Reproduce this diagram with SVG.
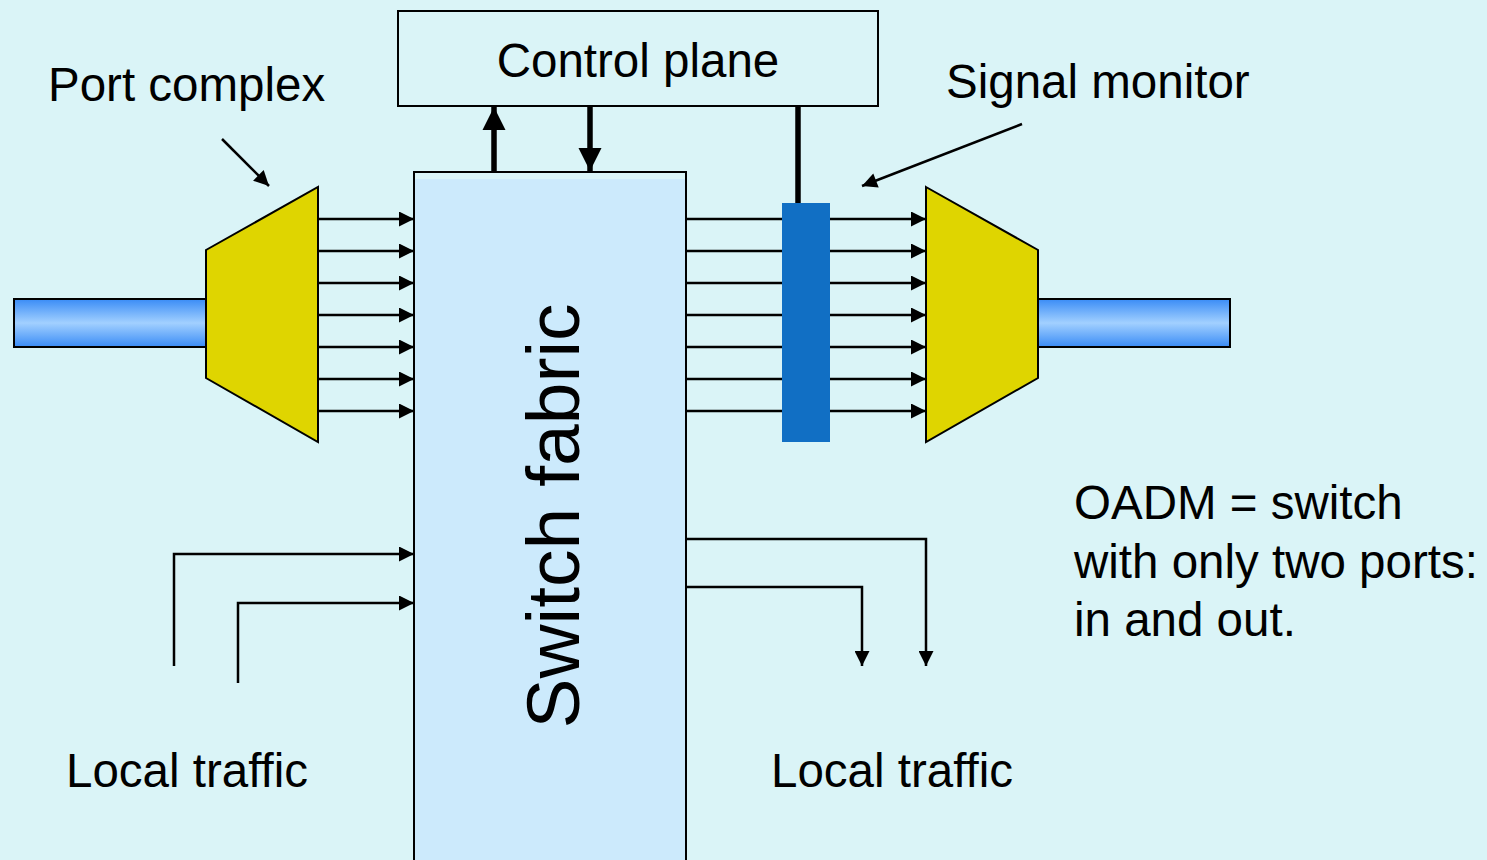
<svg xmlns="http://www.w3.org/2000/svg" width="1487" height="860" viewBox="0 0 1487 860">
<style>
text{font-family:"Liberation Sans",Arial,sans-serif;font-size:47.5px;fill:#000}
.thin{stroke:#000;stroke-width:2.5;fill:none}
.thick{stroke:#000;stroke-width:5.5;fill:none}
.trap{fill:#DFD500;stroke:#000;stroke-width:2}
.fiber{fill:url(#fg);stroke:#000;stroke-width:2}
</style>
<defs>
<linearGradient id="fg" x1="0" y1="0" x2="0" y2="1">
<stop offset="0" stop-color="#3A8CF6"/>
<stop offset="0.5" stop-color="#A2D0FF"/>
<stop offset="1" stop-color="#3A8CF6"/>
</linearGradient>
<marker id="ah" viewBox="0 0 10 10" refX="10" refY="5" markerWidth="6.8" markerHeight="6" markerUnits="strokeWidth" orient="auto">
<path d="M0,0L10,5L0,10z" fill="#000"/>
</marker>
<marker id="ahb" viewBox="0 0 10 10" refX="10" refY="5" markerWidth="4.2" markerHeight="4.4" markerUnits="strokeWidth" orient="auto">
<path d="M0,0L10,5L0,10z" fill="#000"/>
</marker>
</defs>
<rect width="1487" height="860" fill="#DAF4F7"/>

<g id="switch-fabric">
<rect x="414" y="172" width="272" height="700" fill="#DAF4F7" stroke="#000" stroke-width="2"/>
<rect x="415" y="179" width="270" height="690" fill="#CCEAFC"/>
<line x1="414" y1="172" x2="414" y2="860" stroke="#000" stroke-width="2"/>
<line x1="686" y1="172" x2="686" y2="860" stroke="#000" stroke-width="2"/>
<text transform="translate(579,516) rotate(-90)" text-anchor="middle" style="font-size:75px">Switch fabric</text>
</g>

<g id="control-plane">
<rect x="398" y="11" width="480" height="95" fill="none" stroke="#000" stroke-width="2"/>
<text x="638" y="77" text-anchor="middle">Control plane</text>
</g>

<g id="left-fiber"><rect class="fiber" x="14" y="299" width="192" height="48"/></g>
<g id="right-fiber"><rect class="fiber" x="1038" y="299" width="192" height="48"/></g>
<g id="port-complex-left"><polygon class="trap" points="206,250 318,187 318,442 206,378"/></g>
<g id="port-complex-right"><polygon class="trap" points="926,187 1038,250 1038,378 926,442"/></g>

<g id="connectors">
<line class="thin" marker-end="url(#ah)" x1="318" y1="219" x2="414" y2="219"/>
<line class="thin" marker-end="url(#ah)" x1="318" y1="251" x2="414" y2="251"/>
<line class="thin" marker-end="url(#ah)" x1="318" y1="283" x2="414" y2="283"/>
<line class="thin" marker-end="url(#ah)" x1="318" y1="315" x2="414" y2="315"/>
<line class="thin" marker-end="url(#ah)" x1="318" y1="347" x2="414" y2="347"/>
<line class="thin" marker-end="url(#ah)" x1="318" y1="379" x2="414" y2="379"/>
<line class="thin" marker-end="url(#ah)" x1="318" y1="411" x2="414" y2="411"/>
<line class="thin" marker-end="url(#ah)" x1="686" y1="219" x2="926" y2="219"/>
<line class="thin" marker-end="url(#ah)" x1="686" y1="251" x2="926" y2="251"/>
<line class="thin" marker-end="url(#ah)" x1="686" y1="283" x2="926" y2="283"/>
<line class="thin" marker-end="url(#ah)" x1="686" y1="315" x2="926" y2="315"/>
<line class="thin" marker-end="url(#ah)" x1="686" y1="347" x2="926" y2="347"/>
<line class="thin" marker-end="url(#ah)" x1="686" y1="379" x2="926" y2="379"/>
<line class="thin" marker-end="url(#ah)" x1="686" y1="411" x2="926" y2="411"/>
<line class="thick" x1="494" y1="171" x2="494" y2="107" marker-end="url(#ahb)"/>
<line class="thick" x1="590" y1="106" x2="590" y2="171" marker-end="url(#ahb)"/>
<line class="thick" x1="798" y1="106" x2="798" y2="205"/>
<path class="thin" marker-end="url(#ah)" d="M174,666V554H414"/>
<path class="thin" marker-end="url(#ah)" d="M238,683V603H414"/>
<path class="thin" marker-end="url(#ah)" d="M686,539H926V666"/>
<path class="thin" marker-end="url(#ah)" d="M686,587H862V666"/>
<line class="thin" x1="222" y1="139" x2="269" y2="186" marker-end="url(#ah)"/>
<line class="thin" x1="1022" y1="124" x2="862" y2="186" marker-end="url(#ah)"/>
</g>

<g id="signal-monitor"><rect x="782" y="203" width="48" height="239" fill="#116FC4"/></g>

<g id="labels">
<text x="48" y="101">Port complex</text>
<text x="946" y="98">Signal monitor</text>
<text x="66" y="787">Local traffic</text>
<text x="771" y="787">Local traffic</text>
<text x="1074" y="519">OADM = switch</text>
<text x="1074" y="578">with only two ports:</text>
<text x="1074" y="636">in and out.</text>
</g>
</svg>
